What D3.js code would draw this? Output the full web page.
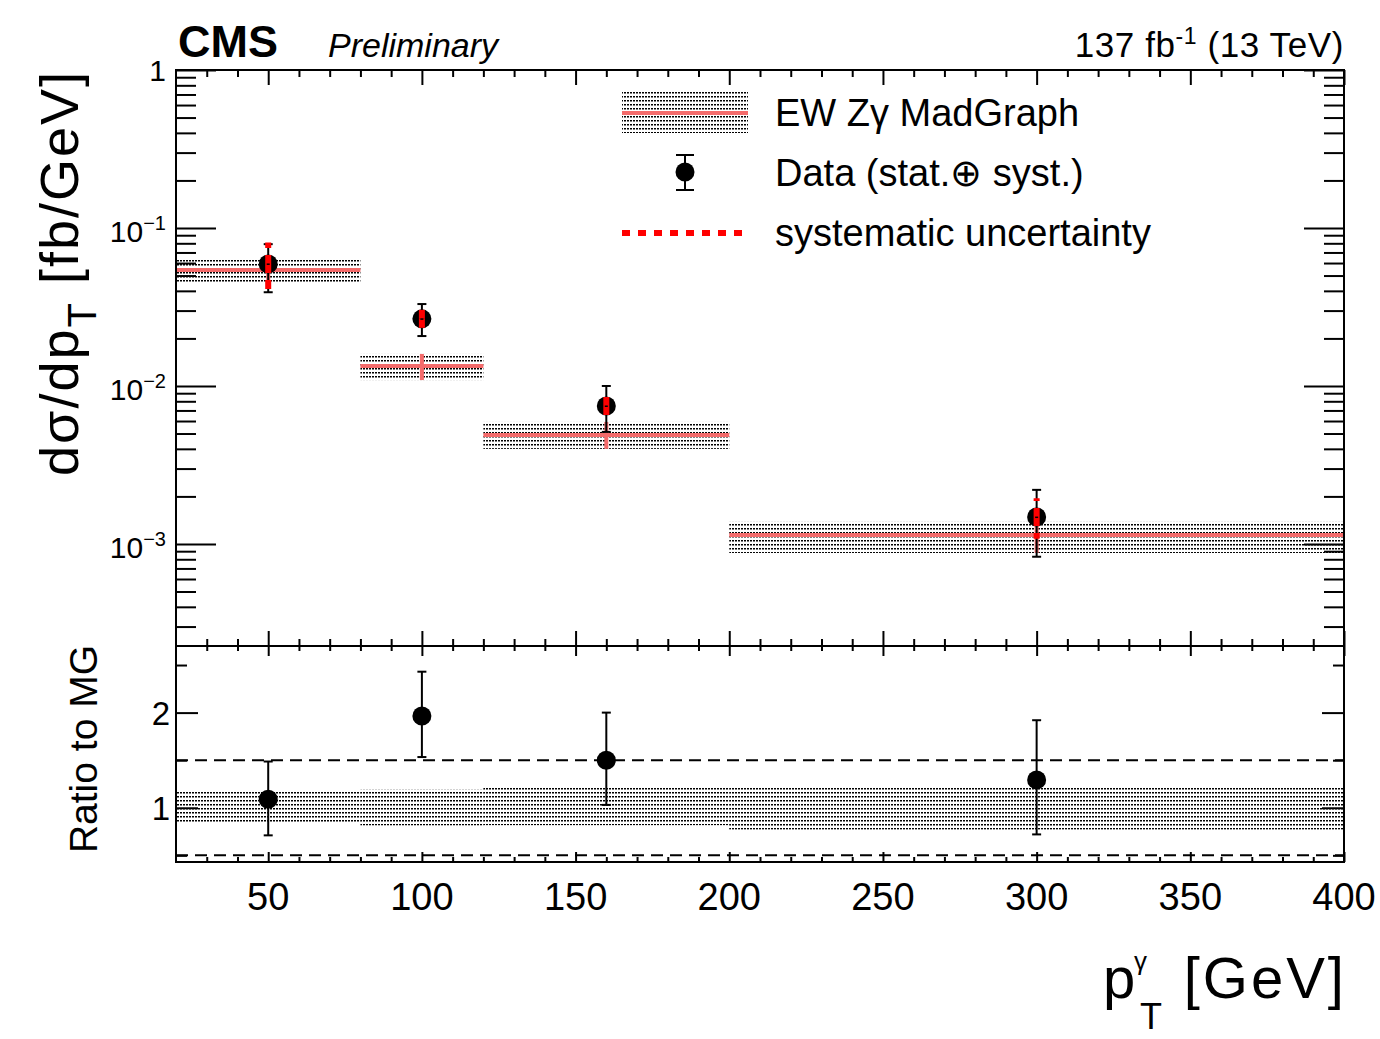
<!DOCTYPE html>
<html>
<head>
<meta charset="utf-8">
<script src="https://cdn.jsdelivr.net/npm/d3@7"></script>
<style>
  body { margin: 0; background: #fff; }
  text { font-family: "Liberation Sans", Arial, Helvetica, sans-serif; fill: #000; }
</style>
</head>
<body>
<svg id="chart" width="1380" height="1039"></svg>
<script>
// ---- data -------------------------------------------------------------
const binEdges   = [20, 80, 120, 200, 400];            // photon pT bins [GeV]
const pointX     = [50, 100, 160, 300];                 // data point positions [GeV]

// EW Zγ MadGraph prediction [fb/GeV] and its uncertainty band
const mgValue    = [0.0542, 0.0134, 0.0049, 0.00114];
const mgLow      = [0.0455, 0.0109, 0.0040, 0.000877];
const mgHigh     = [0.0637, 0.01595, 0.00592, 0.00138];

// measured differential cross section [fb/GeV]
const dataValue  = [0.0592, 0.0266, 0.00747, 0.00148];
const dataTotLow = [0.0392, 0.0207, 0.00512, 0.00083];   // stat ⊕ syst
const dataTotHigh= [0.0790, 0.0330, 0.0100, 0.0022];
const dataSysLow = [0.0400, 0.0226, 0.0060, 0.00108];    // syst only
const dataSysHigh= [0.0810, 0.0316, 0.00916, 0.00195];

// ratio data / MadGraph
const ratioValue = [1.09, 1.965, 1.50, 1.293];
const ratioLow   = [0.71, 1.533, 1.03, 0.72];
const ratioHigh  = [1.486, 2.43, 2.00, 1.92];

// axis ticks
const xMajor     = [50, 100, 150, 200, 250, 300, 350, 400];
const xMinor     = d3.range(30, 401, 10).filter(v => v % 50 !== 0);
const yDecades   = [1e-3, 1e-2, 1e-1, 1];
const yDecadeLbl = ["3", "2", "1", null];
const ratioMajor = [1, 2];
const ratioMinor = [0.5, 1.5, 2.5];
const ratioLines = [0.5, 1.5];

// ---- layout -----------------------------------------------------------
const L = 176, R = 1344;
const topY0 = 70, topY1 = 646;
const ratY0 = 646, ratY1 = 862;
const salmon = "#f46b6b";

const svg = d3.select("#chart");
const defs = svg.append("defs");
const pat = defs.append("pattern").attr("id", "dots")
  .attr("width", 3).attr("height", 4).attr("patternUnits", "userSpaceOnUse");
pat.append("rect").attr("width", 2).attr("height", 1.5).attr("fill", "#000");

const x = d3.scaleLinear().domain([20, 400]).range([L, R]);
const y = d3.scaleLog().domain([2.26e-4, 1]).range([topY1, topY0]);
const yr = d3.scaleLinear().domain([0.43, 2.7]).range([ratY1, ratY0]);

// ---- upper panel -------------------------------------------------------
const up = svg.append("g");
const bins = d3.range(mgValue.length).map(i => ({
  x0: binEdges[i], x1: binEdges[i + 1], xc: pointX[i],
  v: mgValue[i], lo: mgLow[i], hi: mgHigh[i]
}));

up.selectAll("rect.band").data(bins).join("rect")
  .attr("x", d => x(d.x0)).attr("width", d => x(d.x1) - x(d.x0))
  .attr("y", d => y(d.hi)).attr("height", d => y(d.lo) - y(d.hi))
  .attr("fill", "url(#dots)");

up.selectAll("line.mgv").data(bins).join("line")
  .attr("x1", d => x(d.xc)).attr("x2", d => x(d.xc))
  .attr("y1", d => y(d.lo)).attr("y2", d => y(d.hi))
  .attr("stroke", salmon).attr("stroke-width", 4);

up.selectAll("line.mgh").data(bins).join("line")
  .attr("x1", d => x(d.x0)).attr("x2", d => x(d.x1))
  .attr("y1", d => y(d.v)).attr("y2", d => y(d.v))
  .attr("stroke", salmon).attr("stroke-width", 4);

const pts = d3.range(dataValue.length).map(i => ({
  x: pointX[i], v: dataValue[i], lo: dataTotLow[i], hi: dataTotHigh[i],
  slo: dataSysLow[i], shi: dataSysHigh[i]
}));

function errorBar(g, cx, yv, ylo, yhi, capW) {
  g.append("line").attr("x1", cx).attr("x2", cx).attr("y1", ylo).attr("y2", yhi)
    .attr("stroke", "#000").attr("stroke-width", 2);
  [ylo, yhi].forEach(yy => g.append("line")
    .attr("x1", cx - capW / 2).attr("x2", cx + capW / 2).attr("y1", yy).attr("y2", yy)
    .attr("stroke", "#000").attr("stroke-width", 2));
  g.append("circle").attr("cx", cx).attr("cy", yv).attr("r", 9.5).attr("fill", "#000");
}

pts.forEach(p => errorBar(up, x(p.x), y(p.v), y(p.lo), y(p.hi), 9));

// systematic uncertainty: red dashed segments drawn outward from the point
pts.forEach(p => {
  [p.shi, p.slo].forEach(e => up.append("line")
    .attr("x1", x(p.x)).attr("x2", x(p.x)).attr("y1", y(p.v)).attr("y2", y(e))
    .attr("stroke", "#ff0000").attr("stroke-width", 6).attr("stroke-dasharray", "9,7"));
  up.append("rect").attr("x", x(p.x) - 1.5).attr("y", y(p.v) - 0.5)
    .attr("width", 3).attr("height", 1.5).attr("fill", "#000");
});

// ---- ratio panel -------------------------------------------------------
const rp = svg.append("g");
rp.selectAll("rect.rband").data(bins).join("rect")
  .attr("x", d => x(d.x0)).attr("width", d => x(d.x1) - x(d.x0))
  .attr("y", d => yr(d.hi / d.v)).attr("height", d => yr(d.lo / d.v) - yr(d.hi / d.v))
  .attr("fill", "url(#dots)");

rp.selectAll("line.ref").data(ratioLines).join("line")
  .attr("x1", L).attr("x2", R).attr("y1", d => yr(d)).attr("y2", d => yr(d))
  .attr("stroke", "#000").attr("stroke-width", 2).attr("stroke-dasharray", "12,7");

ratioValue.forEach((v, i) =>
  errorBar(rp, x(pointX[i]), yr(v), yr(ratioLow[i]), yr(ratioHigh[i]), 9));

// ---- frames and ticks --------------------------------------------------
function tickGroup(axis, tx, ty, values, size) {
  const g = svg.append("g").attr("transform", `translate(${tx},${ty})`)
    .call(axis.tickValues(values).tickSize(size).tickFormat(""));
  g.select(".domain").remove();
  g.selectAll("line").attr("stroke", "#000").attr("stroke-width", 2);
  return g;
}

const yMinor = [];
[1e-4, 1e-3, 1e-2, 1e-1].forEach(d => d3.range(2, 10).forEach(k => {
  const v = k * d; if (v >= 2.26e-4 && v < 1) yMinor.push(v);
}));

// upper panel
tickGroup(d3.axisLeft(y), L, 0, yDecades, -40);
tickGroup(d3.axisLeft(y), L, 0, yMinor, -20);
tickGroup(d3.axisRight(y), R, 0, yDecades, -40);
tickGroup(d3.axisRight(y), R, 0, yMinor, -20);
tickGroup(d3.axisTop(x), 0, topY0, xMajor, -15);
tickGroup(d3.axisTop(x), 0, topY0, xMinor, -7);
tickGroup(d3.axisBottom(x), 0, topY1, xMajor, -15);
tickGroup(d3.axisBottom(x), 0, topY1, xMinor, -7);

// ratio panel
tickGroup(d3.axisLeft(yr), L, 0, ratioMajor, -22);
tickGroup(d3.axisLeft(yr), L, 0, ratioMinor, -11);
tickGroup(d3.axisRight(yr), R, 0, ratioMajor, -22);
tickGroup(d3.axisRight(yr), R, 0, ratioMinor, -11);
tickGroup(d3.axisTop(x), 0, ratY0, xMajor, -10);
tickGroup(d3.axisTop(x), 0, ratY0, xMinor, -5);
tickGroup(d3.axisBottom(x), 0, ratY1, xMajor, -10);
tickGroup(d3.axisBottom(x), 0, ratY1, xMinor, -5);

svg.append("rect").attr("x", L).attr("y", topY0).attr("width", R - L).attr("height", topY1 - topY0)
  .attr("fill", "none").attr("stroke", "#000").attr("stroke-width", 2);
svg.append("rect").attr("x", L).attr("y", ratY0).attr("width", R - L).attr("height", ratY1 - ratY0)
  .attr("fill", "none").attr("stroke", "#000").attr("stroke-width", 2);

// ---- tick labels -------------------------------------------------------
yDecades.forEach((d, i) => {
  const t = svg.append("text").attr("x", 166).attr("text-anchor", "end");
  if (yDecadeLbl[i] === null) {
    t.attr("y", y(d) + 11).attr("font-size", 30).text("1");
  } else {
    t.attr("y", y(d) + 14).attr("font-size", 30);
    t.append("tspan").text("10");
    t.append("tspan").attr("font-size", 20).attr("dy", -12).text("\u2212" + yDecadeLbl[i]);
  }
});

ratioMajor.forEach(v => svg.append("text").attr("x", 170).attr("y", yr(v) + 12)
  .attr("text-anchor", "end").attr("font-size", 33).text(v));

xMajor.forEach(v => svg.append("text").attr("x", x(v)).attr("y", 910)
  .attr("text-anchor", "middle").attr("font-size", 38).text(v));

// ---- titles ------------------------------------------------------------
const yt = svg.append("text").attr("transform", "translate(78,70) rotate(-90)")
  .attr("text-anchor", "end").attr("font-size", 54).attr("letter-spacing", 2);
yt.append("tspan").text("d\u03C3/dp");
yt.append("tspan").attr("font-size", 40).attr("dy", 18).text("T");
yt.append("tspan").attr("dy", -18).text(" [fb/GeV]");

svg.append("text").attr("transform", "translate(97,645) rotate(-90)")
  .attr("text-anchor", "end").attr("font-size", 39).text("Ratio to MG");

svg.append("text").attr("x", 1103).attr("y", 998).attr("font-size", 58).text("p");
svg.append("text").attr("x", 1134).attr("y", 970).attr("font-size", 26).text("\u03B3");
svg.append("text").attr("x", 1140).attr("y", 1029).attr("font-size", 36).text("T");
svg.append("text").attr("x", 1347).attr("y", 998).attr("text-anchor", "end")
  .attr("font-size", 58).attr("letter-spacing", 3).text("[GeV]");

svg.append("text").attr("x", 178).attr("y", 57).attr("font-size", 45)
  .attr("font-weight", "bold").text("CMS");
svg.append("text").attr("x", 328).attr("y", 57).attr("font-size", 34)
  .attr("font-style", "italic").text("Preliminary");
const lumi = svg.append("text").attr("x", 1344).attr("y", 57)
  .attr("text-anchor", "end").attr("font-size", 35).attr("letter-spacing", 0.6);
lumi.append("tspan").text("137 fb");
lumi.append("tspan").attr("font-size", 23).attr("dy", -13).text("-1");
lumi.append("tspan").attr("dy", 13).text(" (13 TeV)");

// ---- legend ------------------------------------------------------------
const lg = svg.append("g");
lg.append("rect").attr("x", 622).attr("y", 92).attr("width", 126).attr("height", 41)
  .attr("fill", "url(#dots)");
lg.append("line").attr("x1", 622).attr("x2", 748).attr("y1", 113).attr("y2", 113)
  .attr("stroke", salmon).attr("stroke-width", 4);
errorBar(lg, 685, 172, 190, 155, 18);
lg.append("line").attr("x1", 622).attr("x2", 746).attr("y1", 233).attr("y2", 233)
  .attr("stroke", "#ff0000").attr("stroke-width", 6).attr("stroke-dasharray", "8,8");

const legendText = ["EW Z\u03B3 MadGraph", "Data (stat.\u2295 syst.)", "systematic uncertainty"];
legendText.forEach((t, i) => lg.append("text").attr("x", 775).attr("y", 126 + 60 * i)
  .attr("font-size", 38).text(t));
</script>
</body>
</html>
